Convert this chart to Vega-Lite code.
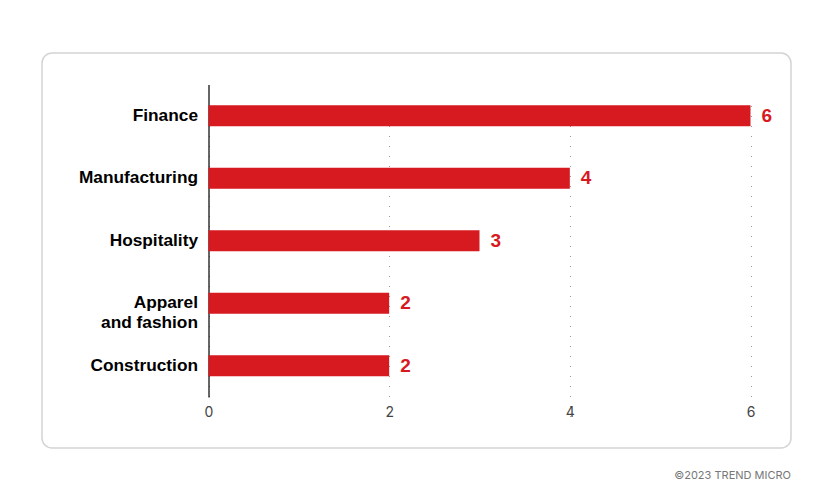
{
  "$schema": "https://vega.github.io/schema/vega-lite/v6.json",
  "width": 749,
  "height": 395,
  "autosize": {"type": "none"},
  "padding": {"left": 42, "top": 53, "right": 43, "bottom": 53},
  "background": "white",
  "title": {
    "text": "©2023 TREND MICRO",
    "orient": "bottom",
    "anchor": "end",
    "frame": "group",
    "offset": 22,
    "font": "Inter",
    "fontSize": 11,
    "fontWeight": "normal",
    "color": "#777777"
  },
  "config": {
    "view": {"stroke": "#d4d4d4", "strokeWidth": 1.5, "cornerRadius": 10}
  },
  "data": {
    "values": [
      {"sector": "Finance", "count": 6},
      {"sector": "Manufacturing", "count": 4},
      {"sector": "Hospitality", "count": 3},
      {"sector": "Apparel and fashion", "count": 2},
      {"sector": "Construction", "count": 2}
    ]
  },
  "encoding": {
    "y": {
      "field": "sector",
      "type": "nominal",
      "sort": null,
      "title": null,
      "scale": {"range": [31.5, 344], "paddingInner": 0, "paddingOuter": 0},
      "axis": {
        "offset": -166.5,
        "domainColor": "#000000",
        "domainWidth": 1.2,
        "ticks": false,
        "labelPadding": 11,
        "labelFont": "Liberation Sans",
        "labelFontSize": 17.3,
        "labelFontWeight": "bold",
        "labelColor": "#000000",
        "labelLimit": 200,
        "labelExpr": "datum.label == 'Apparel and fashion' ? ['Apparel', 'and fashion'] : datum.label",
        "grid": false
      }
    },
    "x": {
      "field": "count",
      "type": "quantitative",
      "title": null,
      "scale": {"domain": [0, 6], "range": [166.5, 708.5]},
      "axis": {
        "offset": -52,
        "values": [0, 2, 4, 6],
        "domain": false,
        "ticks": false,
        "labelFlush": false,
        "labelPadding": 9,
        "labelFont": "Inter",
        "labelFontSize": 14,
        "labelColor": "#444444",
        "grid": true,
        "gridColor": "#9a9a9a",
        "gridDash": [1, 9],
        "gridWidth": 1
      }
    }
  },
  "layer": [
    {
      "mark": {"type": "bar", "size": 21, "color": "#d71920"}
    },
    {
      "mark": {
        "type": "text",
        "align": "left",
        "baseline": "middle",
        "dx": 11,
        "font": "Liberation Sans",
        "fontSize": 19,
        "fontWeight": "bold",
        "color": "#d71920"
      },
      "encoding": {"text": {"field": "count", "type": "quantitative"}}
    }
  ]
}
